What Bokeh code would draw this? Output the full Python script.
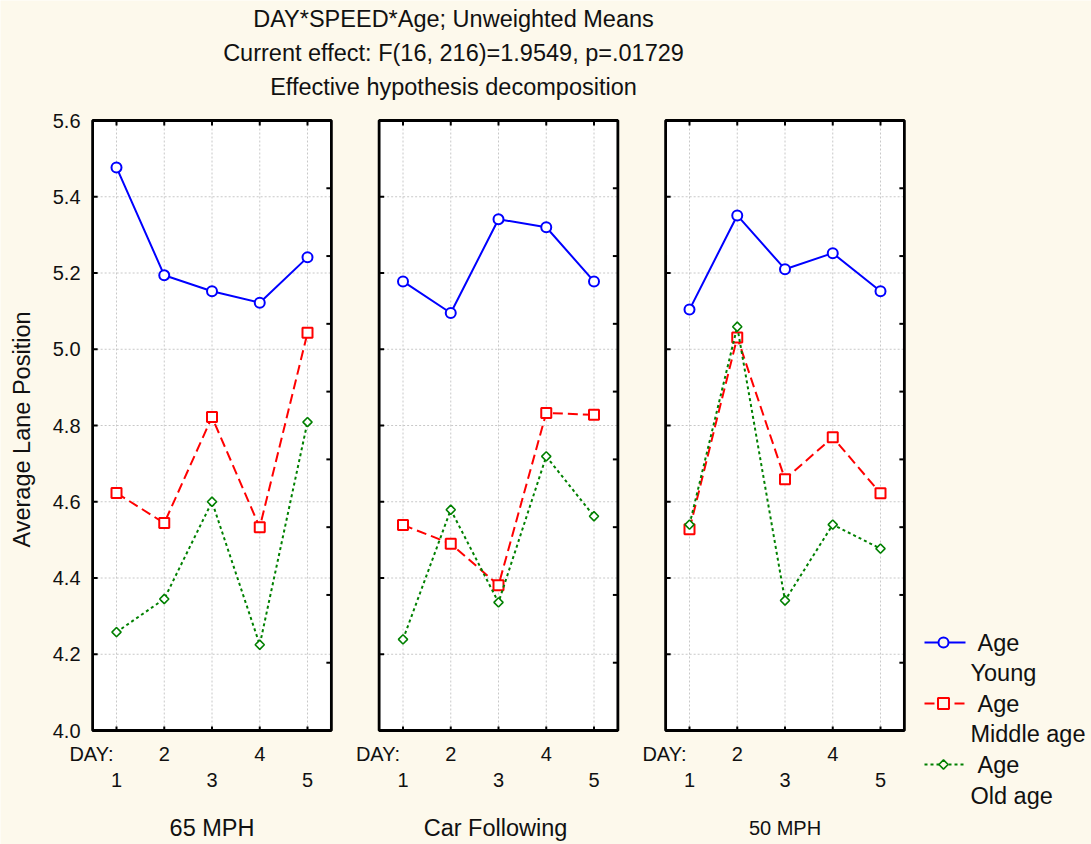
import numpy as np
from bokeh.plotting import figure
from bokeh.models import Range1d
from bokeh.core.properties import value
from bokeh.embed import file_html
from bokeh.resources import INLINE

# ---------------- data ----------------
days = [1, 2, 3, 4, 5]
day_labels = ["1", "2", "3", "4", "5"]
speed_conditions = ["65 MPH", "Car Following", "50 MPH"]
age_groups = ["Young", "Middle age", "Old age"]

young_65 = [5.477, 5.194, 5.152, 5.122, 5.241]
young_car = [5.178, 5.095, 5.341, 5.320, 5.178]
young_50 = [5.104, 5.351, 5.210, 5.252, 5.152]

middle_65 = [4.623, 4.544, 4.822, 4.533, 5.043]
middle_car = [4.539, 4.490, 4.381, 4.833, 4.828]
middle_50 = [4.528, 5.031, 4.659, 4.769, 4.622]

old_65 = [4.258, 4.345, 4.600, 4.225, 4.809]
old_car = [4.239, 4.579, 4.336, 4.719, 4.562]
old_50 = [4.540, 5.059, 4.341, 4.540, 4.477]

y_ticks = [4.0, 4.2, 4.4, 4.6, 4.8, 5.0, 5.2, 5.4, 5.6]
title_lines = ["DAY*SPEED*Age; Unweighted Means",
               "Current effect: F(16, 216)=1.9549, p=.01729",
               "Effective hypothesis decomposition"]
y_label = "Average Lane Position"
x_label = "DAY:"

series = [
    ("Young", [young_65, young_car, young_50]),
    ("Middle age", [middle_65, middle_car, middle_50]),
    ("Old age", [old_65, old_car, old_50]),
]

# ---------------- layout helpers ----------------
W, H = 1091, 844
PXU = 47.75          # pixels per day unit
PX_DAY1 = 116        # pixel of day 1 in first panel
Y_TOP_PX, Y_BOT_PX = 120, 730
YMIN, YMAX = 4.0, 5.6
PYU = (Y_BOT_PX - Y_TOP_PX) / (YMAX - YMIN)
PANEL_STEP = 6


def X(px):
    return 1 + (px - PX_DAY1) / PXU


def Y(py):
    return YMAX - (py - Y_TOP_PX) / PYU


FONT = value("Liberation Sans")
BG = "#FDF9EC"
TXT = "#111111"

p = figure(width=W, height=H, x_range=Range1d(X(0), X(W)), y_range=Range1d(Y(H), Y(0)),
           x_axis_type=None, y_axis_type=None, toolbar_location=None, tools="",
           min_border=0, output_backend="svg", title=None)
p.background_fill_color = BG
p.border_fill_color = BG
p.outline_line_color = None

tx = 5 / PXU
ty = 5 / PYU

styles = {
    "Young": dict(color="#0000FF", dash="solid", marker="circle", size=10, lw=2, angle=0.0),
    "Middle age": dict(color="#FF0000", dash="10 5", marker="square", size=10, lw=2, angle=0.0),
    "Old age": dict(color="#008000", dash="3 3", marker="square", size=6.5, lw=1.6, angle=np.pi / 4),
}

for i, cond in enumerate(speed_conditions):
    off = PANEL_STEP * i
    left, right = days[0] - 0.5 + off, days[-1] + 0.5 + off
    xs = [d + off for d in days]
    # panel background
    p.quad(left=[left], right=[right], top=[YMAX], bottom=[YMIN], fill_color="white", line_color=None)
    # grid
    p.segment(x0=xs, y0=[YMIN] * 5, x1=xs, y1=[YMAX] * 5, line_color="#C8C8C8", line_width=1, line_dash="2 2")
    inner = y_ticks[1:-1]
    p.segment(x0=[left] * len(inner), y0=inner, x1=[right] * len(inner), y1=inner,
              line_color="#C8C8C8", line_width=1, line_dash="2 2")
    # ticks
    p.segment(x0=[left] * len(y_ticks), y0=y_ticks, x1=[left + tx] * len(y_ticks), y1=y_ticks,
              line_color="black", line_width=2)
    rt = [YMIN + k * (YMAX - YMIN) / 9 for k in range(1, 9)]
    p.segment(x0=[right - tx] * len(rt), y0=rt, x1=[right] * len(rt), y1=rt, line_color="black", line_width=2)
    p.segment(x0=xs, y0=[YMAX] * 5, x1=xs, y1=[YMAX - ty] * 5, line_color="black", line_width=2)
    p.segment(x0=xs, y0=[YMIN] * 5, x1=xs, y1=[YMIN + ty * 0.8] * 5, line_color="black", line_width=2)

    # data
    for name, vals in series:
        st = styles[name]
        p.line(xs, vals[i], line_color=st["color"], line_width=2, line_dash=st["dash"])
        p.scatter(xs, vals[i], marker=st["marker"], size=st["size"], angle=st["angle"],
                  fill_color="white", line_color=st["color"], line_width=st["lw"])

    # frame
    p.quad(left=[left], right=[right], top=[YMAX], bottom=[YMIN], fill_color=None,
           line_color="black", line_width=2.8)

    # x tick labels (staggered)
    p.text(x=[xs[0] - 3 / PXU], y=[Y(753)], text=[x_label], text_font=FONT, text_font_size="20px",
           text_color=TXT, text_align="right", text_baseline="middle")
    p.text(x=[xs[1], xs[3]], y=[Y(753)] * 2, text=[day_labels[1], day_labels[3]], text_font=FONT,
           text_font_size="20px", text_color=TXT, text_align="center", text_baseline="middle")
    p.text(x=[xs[0], xs[2], xs[4]], y=[Y(779.5)] * 3, text=[day_labels[0], day_labels[2], day_labels[4]],
           text_font=FONT, text_font_size="20px", text_color=TXT, text_align="center", text_baseline="middle")
    # panel title
    p.text(x=[xs[2] - (3 / PXU if i == 1 else 0)], y=[Y(827)], text=[cond], text_font=FONT,
           text_font_size="20px" if i == 2 else "23.5px", text_color=TXT,
           text_align="center", text_baseline="middle")

# y tick labels
p.text(x=[X(80)] * len(y_ticks), y=y_ticks, text=["%.1f" % v for v in y_ticks], text_font=FONT,
       text_font_size="20px", text_color=TXT, text_align="right", text_baseline="middle")
# y axis label
p.text(x=[X(21)], y=[Y(429)], text=[y_label], angle=np.pi / 2, text_font=FONT, text_font_size="23.5px",
       text_color=TXT, text_align="center", text_baseline="middle")
# title
p.text(x=[X(453)] * 3, y=[Y(18), Y(52), Y(86)], text=title_lines, text_font=FONT, text_font_size="23.5px",
       text_color=TXT, text_align="center", text_baseline="middle")

# legend
for j, (name, _) in enumerate(series):
    st = styles[name]
    yy = Y(642 + 61 * j)
    p.line([X(924), X(965)], [yy, yy], line_color=st["color"], line_width=2, line_dash=st["dash"])
    p.scatter([X(943)], [yy], marker=st["marker"], size=st["size"] + (1 if j == 1 else 0), angle=st["angle"],
              fill_color=BG, line_color=st["color"], line_width=st["lw"])
    p.text(x=[X(977)], y=[yy], text=["Age"], text_font=FONT, text_font_size="23.5px", text_color=TXT,
           text_align="left", text_baseline="middle")
    p.text(x=[X(970)], y=[Y(672 + 61.5 * j)], text=[name], text_font=FONT, text_font_size="23.5px",
           text_color=TXT, text_align="left", text_baseline="middle")

open("out.html", "w").write(file_html(p, INLINE))
